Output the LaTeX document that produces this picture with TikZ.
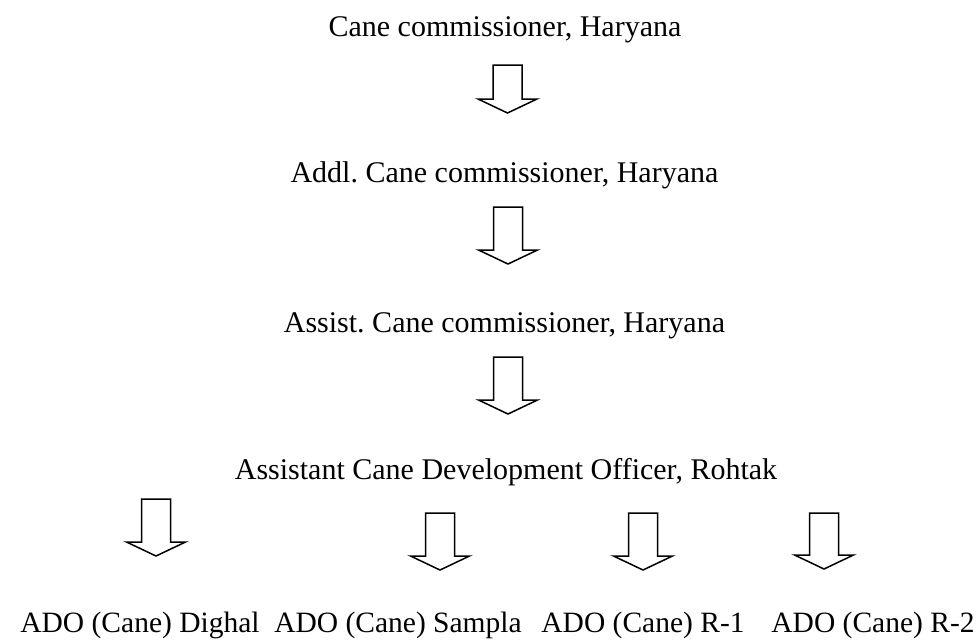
\documentclass[tikz,border=0pt]{standalone}
\usepackage{fontspec}
\setmainfont{Liberation Serif}
\frenchspacing
\newcommand{\blkarrow}[3]{%
  \draw[blockline] (#1-14.5,#2) -- (#1-14.5,#3-14) -- (#1-29.5,#3-14) -- (#1,#3)
    -- (#1+29.5,#3-14) -- (#1+14.5,#3-14) -- (#1+14.5,#2) -- cycle;}
\begin{document}
\begin{tikzpicture}[x=1pt,y=-1pt,
  lbl/.style={inner sep=0pt, font=\fontsize{30}{36}\selectfont},
  sublbl/.style={inner sep=0pt, font=\fontsize{29.5}{36}\selectfont},
  blockline/.style={draw=black, line width=1.5pt, fill=white, line join=miter}]
\useasboundingbox (0,0) rectangle (979,640);
\node[lbl, anchor=base] (cc) at (505,36) {Cane commissioner, Haryana};
\node[lbl, anchor=base] (acc) at (504.5,182) {Addl. Cane commissioner, Haryana};
\node[lbl, anchor=base] (asc) at (504.5,332) {Assist. Cane commissioner, Haryana};
\node[lbl, anchor=base] (acdo) at (506,479) {Assistant Cane Development Officer, Rohtak};
\node[sublbl, anchor=base] (dig) at (140,632) {ADO (Cane) Dighal};
\node[sublbl, anchor=base] (sam) at (398,632) {ADO (Cane) Sampla};
\node[sublbl, anchor=base] (r1) at (643,632) {ADO (Cane) R-1};
\node[sublbl, anchor=base] (r2) at (873,632) {ADO (Cane) R-2};
\blkarrow{507.5}{65}{113}
\blkarrow{508}{207}{264}
\blkarrow{508}{357}{414}
\blkarrow{156}{499}{556}
\blkarrow{440}{513}{570}
\blkarrow{643}{513}{570}
\blkarrow{824}{513}{569}
\end{tikzpicture}
\end{document}
